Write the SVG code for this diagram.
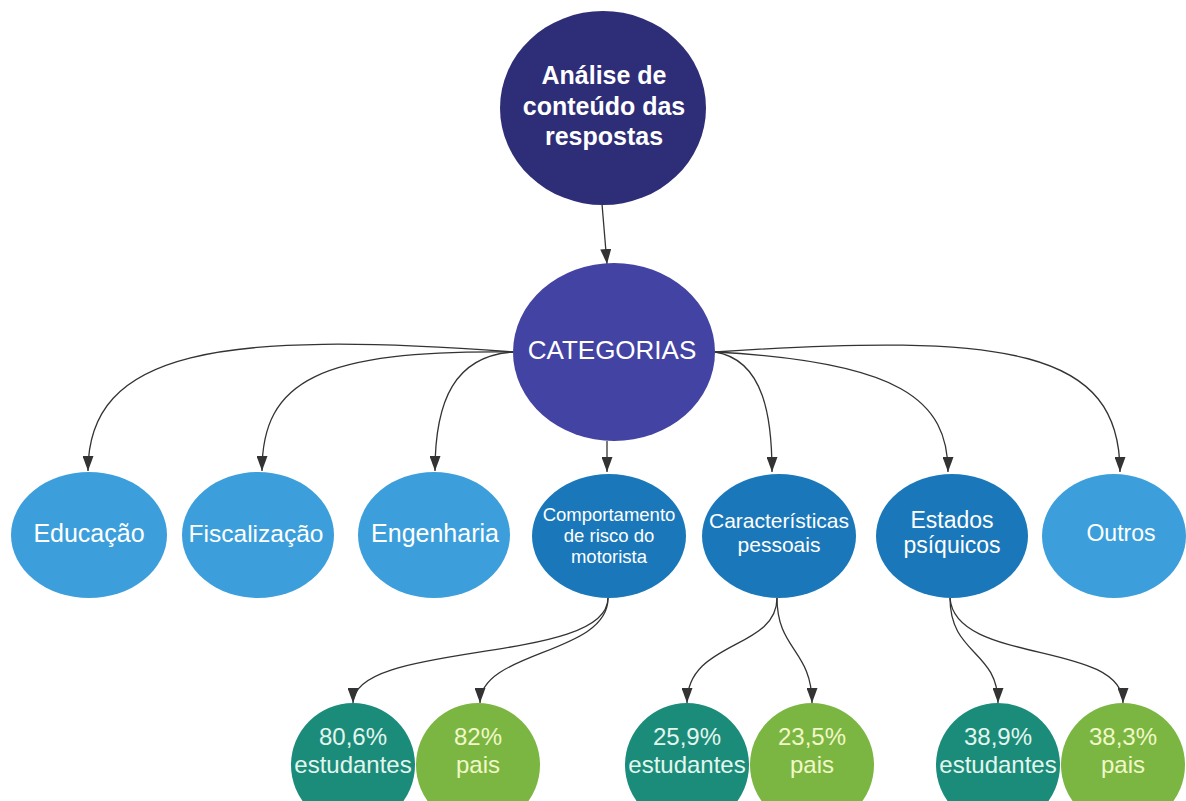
<svg xmlns="http://www.w3.org/2000/svg" width="1186" height="801" viewBox="0 0 1186 801">
<style>
text{font-family:"Liberation Sans",Arial,sans-serif;text-anchor:middle}
.w{fill:#ffffff}
.navy{fill:#2e2d77}
.indigo{fill:#4343a3}
.light{fill:#3c9fdc}
.dark{fill:#1a78ba}
.teal{fill:#1b8c7a}
.green{fill:#7cb642}
.tt{fill:#e3f6ee}
.gt{fill:#f1f8c8}
.edge{fill:none;stroke:#333333;stroke-width:1.3;marker-end:url(#ah)}
</style>
<defs>
<marker id="ah" markerWidth="15" markerHeight="11" refX="15" refY="5.5" orient="auto" markerUnits="userSpaceOnUse" viewBox="0 0 15 11">
<path d="M0,0 L15,5.5 L0,11 Z" fill="#333333"/>
</marker>
</defs>
<rect width="1186" height="801" fill="#ffffff"/>
<g id="connectors">
<path class="edge" d="M602 204 L607 264"/>
<path class="edge" d="M513 352 C220 330 88 350 88 471"/>
<path class="edge" d="M513 352 C320 350 262 380 262 471"/>
<path class="edge" d="M513 352 C455 356 435 400 435 471"/>
<path class="edge" d="M607 441 L607 472"/>
<path class="edge" d="M715 352 C765 360 772 420 772 472"/>
<path class="edge" d="M715 352 C900 362 948 400 948 472"/>
<path class="edge" d="M715 352 C1010 332 1120 350 1120 472"/>
<path class="edge" d="M608 598 C608 665 353 640 353 703"/>
<path class="edge" d="M608 598 C608 655 480 650 480 703"/>
<path class="edge" d="M777 598 C777 650 687 640 687 703"/>
<path class="edge" d="M777 598 C777 650 812 650 812 703"/>
<path class="edge" d="M950 598 C950 655 998 650 998 703"/>
<path class="edge" d="M950 598 C955 665 1123 640 1123 703"/>
</g>
<g id="n-analise">
<ellipse class="navy" cx="603" cy="108" rx="103" ry="97"/>
<text class="w" font-size="25" font-weight="bold" x="604" y="84">Análise de</text>
<text class="w" font-size="25" font-weight="bold" x="604" y="115">conteúdo das</text>
<text class="w" font-size="25" font-weight="bold" x="604" y="145">respostas</text>
</g>
<g id="n-categorias">
<ellipse class="indigo" cx="614" cy="352" rx="101" ry="89"/>
<text class="w" font-size="26" x="612" y="359">CATEGORIAS</text>
</g>
<g id="n-educacao">
<ellipse class="light" cx="89" cy="535" rx="78" ry="63"/>
<text class="w" font-size="25" x="89" y="542">Educação</text>
</g>
<g id="n-fiscalizacao">
<ellipse class="light" cx="258" cy="535" rx="76" ry="63"/>
<text class="w" font-size="24.5" x="256" y="542">Fiscalização</text>
</g>
<g id="n-engenharia">
<ellipse class="light" cx="434" cy="535" rx="76" ry="63"/>
<text class="w" font-size="25" x="435" y="542">Engenharia</text>
</g>
<g id="n-comportamento">
<ellipse class="dark" cx="609" cy="536" rx="77" ry="62"/>
<text class="w" font-size="18.5" x="609" y="521">Comportamento</text>
<text class="w" font-size="18.5" x="609" y="542">de risco do</text>
<text class="w" font-size="18.5" x="609" y="563">motorista</text>
</g>
<g id="n-caracteristicas">
<ellipse class="dark" cx="779" cy="536" rx="77" ry="62"/>
<text class="w" font-size="21" x="779" y="528">Características</text>
<text class="w" font-size="21" x="779" y="552">pessoais</text>
</g>
<g id="n-estados">
<ellipse class="dark" cx="952" cy="536" rx="76" ry="62"/>
<text class="w" font-size="23" x="952" y="528">Estados</text>
<text class="w" font-size="23" x="952" y="553">psíquicos</text>
</g>
<g id="n-outros">
<ellipse class="light" cx="1114" cy="536" rx="72" ry="62"/>
<text class="w" font-size="23" x="1121" y="541">Outros</text>
</g>
<g id="n-e1">
<ellipse class="teal" cx="353" cy="765" rx="62" ry="62"/>
<text class="tt" font-size="24" x="353" y="745">80,6%</text>
<text class="tt" font-size="24" x="353" y="773">estudantes</text>
</g>
<g id="n-p1">
<ellipse class="green" cx="478" cy="765" rx="62" ry="62"/>
<text class="gt" font-size="24" x="478" y="745">82%</text>
<text class="gt" font-size="24" x="478" y="773">pais</text>
</g>
<g id="n-e2">
<ellipse class="teal" cx="687" cy="765" rx="62" ry="62"/>
<text class="tt" font-size="24" x="687" y="745">25,9%</text>
<text class="tt" font-size="24" x="687" y="773">estudantes</text>
</g>
<g id="n-p2">
<ellipse class="green" cx="812" cy="765" rx="62" ry="62"/>
<text class="gt" font-size="24" x="812" y="745">23,5%</text>
<text class="gt" font-size="24" x="812" y="773">pais</text>
</g>
<g id="n-e3">
<ellipse class="teal" cx="998" cy="765" rx="62" ry="62"/>
<text class="tt" font-size="24" x="998" y="745">38,9%</text>
<text class="tt" font-size="24" x="998" y="773">estudantes</text>
</g>
<g id="n-p3">
<ellipse class="green" cx="1123" cy="765" rx="62" ry="62"/>
<text class="gt" font-size="24" x="1123" y="745">38,3%</text>
<text class="gt" font-size="24" x="1123" y="773">pais</text>
</g>
</svg>
